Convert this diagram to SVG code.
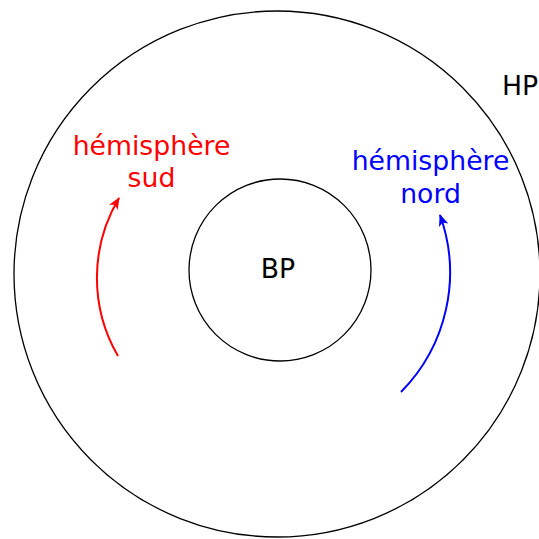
<svg xmlns="http://www.w3.org/2000/svg" width="539" height="539" viewBox="0 0 539 539">
<style>
.c{fill:none;stroke:#000;stroke-width:1.3}
.t{font-family:"DejaVu Sans",sans-serif;font-size:26.7px;text-anchor:middle}
.a{fill:none;stroke-width:2}
</style>
<defs>
<marker id="mr" viewBox="0 0 12 10" refX="11" refY="5" markerWidth="12" markerHeight="10" markerUnits="userSpaceOnUse" orient="auto">
<path d="M0,0 L12,5 L0,10 L3,5 Z" fill="#ff0000"/>
</marker>
<marker id="mb" viewBox="0 0 12 10" refX="11" refY="5" markerWidth="12" markerHeight="10" markerUnits="userSpaceOnUse" orient="auto">
<path d="M0,0 L12,5 L0,10 L3,5 Z" fill="#0000ff"/>
</marker>
</defs>
<g id="HP">
<circle class="c" cx="277" cy="274" r="263"/>
<text class="t" x="520" y="95">HP</text>
</g>
<g id="BP">
<circle class="c" cx="280" cy="270" r="91"/>
<text class="t" x="278" y="278">BP</text>
</g>
<g id="sud">
<text class="t" x="151.5" y="155" fill="#ff0000">hémisphère</text>
<text class="t" x="151.5" y="187" fill="#ff0000">sud</text>
</g>
<g id="nord">
<text class="t" x="430.5" y="170" fill="#0000ff">hémisphère</text>
<text class="t" x="430.5" y="203" fill="#0000ff">nord</text>
</g>
<g id="connectors">
<path class="a" stroke="#ff0000" d="M118,356 A155.5,155.5 0 0 1 119,198" marker-end="url(#mr)"/>
<path class="a" stroke="#0000ff" d="M401,392 A170,170 0 0 0 440,215" marker-end="url(#mb)"/>
</g>
</svg>
